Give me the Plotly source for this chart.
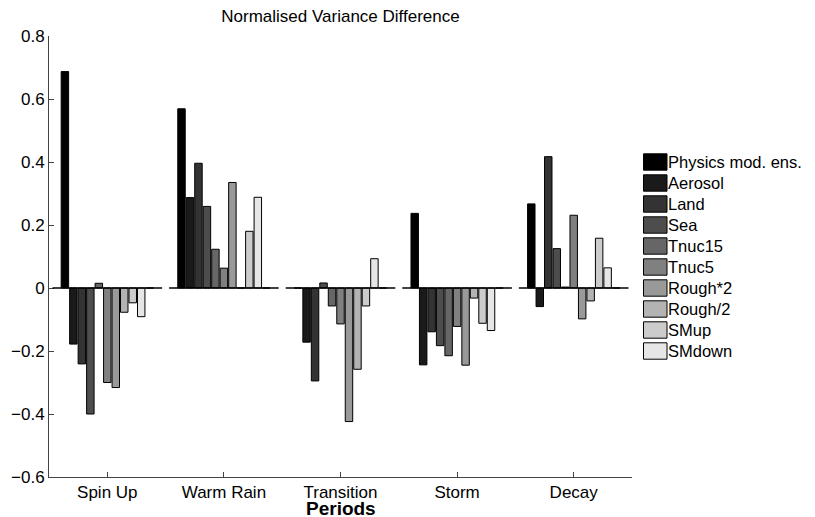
import plotly.graph_objects as go

# ---------------- data ----------------
periods = ["Spin Up", "Warm Rain", "Transition", "Storm", "Decay"]

series_names = ["Physics mod. ens.", "Aerosol", "Land", "Sea", "Tnuc15",
                "Tnuc5", "Rough*2", "Rough/2", "SMup", "SMdown"]

physics = [0.687, 0.569, 0.000, 0.237, 0.267]
aerosol = [-0.178, 0.287, -0.172, -0.244, -0.059]
land = [-0.241, 0.396, -0.295, -0.139, 0.417]
sea = [-0.400, 0.259, 0.016, -0.183, 0.125]
tnuc15 = [0.015, 0.123, -0.057, -0.215, 0.003]
tnuc5 = [-0.300, 0.063, -0.114, -0.122, 0.231]
rough_x2 = [-0.316, 0.335, -0.424, -0.245, -0.098]
rough_div2 = [-0.077, 0.000, -0.258, -0.032, -0.041]
smup = [-0.047, 0.180, -0.057, -0.112, 0.158]
smdown = [-0.091, 0.288, 0.093, -0.135, 0.064]
unlabelled = [0.0, 0.0, 0.0, 0.0, 0.0]   # 11th (white) series, not in legend

series_values = [physics, aerosol, land, sea, tnuc15, tnuc5,
                 rough_x2, rough_div2, smup, smdown]

colors = ["#000000", "#1a1a1a", "#333333", "#4d4d4d", "#666666",
          "#808080", "#999999", "#b3b3b3", "#cccccc", "#e6e6e6"]
extra_color = "#ffffff"

y_ticks = [-0.6, -0.4, -0.2, 0, 0.2, 0.4, 0.6, 0.8]
y_ticktext = ["\u22120.6", "\u22120.4", "\u22120.2", "0", "0.2", "0.4", "0.6", "0.8"]

FONT = "Liberation Sans, Arial, Helvetica, sans-serif"

# ---------------- geometry (page has an 8px body margin) ----------------
OFF = 8
W, H = 815 - OFF, 517 - OFF
L, R, T, B = 49 - OFF, 183, 36 - OFF, 40
pw, ph = W - L - R, H - T - B

def px_x(page_x):
    return (page_x - OFF - L) / pw

def px_y(page_y):
    return (H - B - (page_y - OFF)) / ph

# ---------------- figure ----------------
fig = go.Figure()
for name, vals, col in zip(series_names, series_values, colors):
    fig.add_trace(go.Bar(x=periods, y=vals, name=name,
                         marker=dict(color=col, line=dict(color="#000000", width=1)),
                         showlegend=False))
fig.add_trace(go.Bar(x=periods, y=unlabelled, name="",
                     marker=dict(color=extra_color, line=dict(color="#000000", width=1)),
                     showlegend=False))

# per-group baselines
for i in range(len(periods)):
    fig.add_shape(type="line", xref="x", yref="y",
                  x0=i - 0.47, x1=i + 0.47, y0=0, y1=0,
                  line=dict(color="#000000", width=1.5), layer="above")

# manual legend (matches reference entry spacing)
row0, step = 162, 21
for k, (name, col) in enumerate(zip(series_names, colors)):
    cy = row0 + step * k
    fig.add_shape(type="rect", xref="paper", yref="paper",
                  x0=px_x(643.5), x1=px_x(667), y0=px_y(cy + 8.2), y1=px_y(cy - 8.2),
                  fillcolor=col, line=dict(color="#000000", width=1))
    fig.add_annotation(xref="paper", yref="paper", x=px_x(666), y=px_y(cy),
                       text=name, showarrow=False, xanchor="left", yanchor="middle",
                       font=dict(family=FONT, size=16.5, color="#000000"))

# x-axis title
fig.add_annotation(xref="paper", yref="paper", x=0.5, y=px_y(508),
                   text="<b>Periods</b>", showarrow=False,
                   xanchor="center", yanchor="middle",
                   font=dict(family=FONT, size=19, color="#000000"))

fig.update_layout(
    width=W, height=H,
    margin=dict(l=L, r=R, t=T, b=B, pad=0),
    paper_bgcolor="white", plot_bgcolor="white",
    barmode="group", bargap=0.2, bargroupgap=0.12,
    showlegend=False,
    font=dict(family=FONT, size=17, color="#000000"),
    title=dict(text="Normalised Variance Difference", xref="paper", x=0.5,
               xanchor="center", yref="container", y=1 - (16 - OFF) / H, yanchor="middle",
               font=dict(family=FONT, size=17, color="#000000")),
    xaxis=dict(range=[-0.5, 4.5], showline=True, linecolor="#444444", linewidth=1,
               ticks="inside", ticklen=5, tickcolor="#444444", showgrid=False,
               zeroline=False, mirror=False, automargin=False,
               tickfont=dict(family=FONT, size=17, color="#000000")),
    yaxis=dict(range=[-0.6, 0.8], tickvals=y_ticks, ticktext=y_ticktext,
               showline=True, linecolor="#444444", linewidth=1,
               ticks="inside", ticklen=5, tickcolor="#444444", showgrid=False,
               zeroline=False, automargin=False,
               tickfont=dict(family=FONT, size=17, color="#000000")),
)

fig.write_html("out.html")
